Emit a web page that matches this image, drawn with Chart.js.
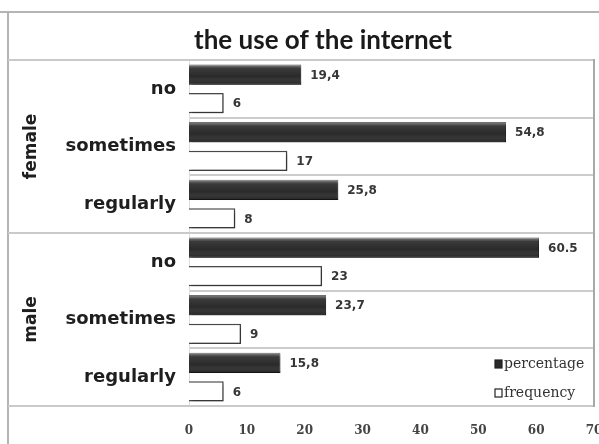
<!DOCTYPE html>
<html>
<head>
<meta charset="utf-8">
<script src="https://cdn.jsdelivr.net/npm/chart.js@4.4.1/dist/chart.umd.min.js"></script>
<style>
  html, body { margin: 0; padding: 0; background: #fff; overflow: hidden; }
  #wrap { width: 599px; height: 444px; position: relative; }
</style>
</head>
<body>
<div id="wrap"><canvas id="c"></canvas></div>
<script>
// Survey: use of the internet by gender
const chartTitle = 'the use of the internet';
const groups = ['female', 'male'];
const answers = ['no', 'sometimes', 'regularly', 'no', 'sometimes', 'regularly'];
const percentage = [19.4, 54.8, 25.8, 60.5, 23.7, 15.8];
const frequency = [6, 17, 8, 23, 9, 6];
const percentageDecimalMark = [',', ',', ',', '.', ',', ','];
const xMin = 0, xMax = 70, xStep = 10;

const seriesNames = ['percentage', 'frequency'];

function valueText(datasetIndex, i, v) {
  if (datasetIndex === 0) return v.toFixed(1).replace('.', percentageDecimalMark[i]);
  return String(v);
}

// Outer frame, row bands and group separators
const framePlugin = {
  id: 'frame',
  beforeDatasetsDraw(chart) {
    const { ctx, chartArea: a, scales: { y } } = chart;
    ctx.save();
    // outer frame
    ctx.strokeStyle = '#b4b4b4';
    ctx.lineWidth = 2;
    ctx.beginPath();
    ctx.moveTo(0, 12); ctx.lineTo(chart.width, 12);
    ctx.moveTo(8, 12); ctx.lineTo(8, chart.height);
    ctx.stroke();
    // group boundaries across the label column
    const per = answers.length / groups.length;
    const lines = [a.top, a.bottom];
    for (let g = 1; g < groups.length; g++) {
      const k = g * per;
      lines.push((y.getPixelForValue(k - 1) + y.getPixelForValue(k)) / 2);
    }
    ctx.strokeStyle = '#cacaca';
    ctx.lineWidth = 2;
    ctx.beginPath();
    lines.forEach(py => { ctx.moveTo(8, py); ctx.lineTo(a.right, py); });
    ctx.stroke();
    // right edge of plot
    ctx.strokeStyle = '#a8a8a8';
    ctx.beginPath();
    ctx.moveTo(a.right, a.top - 1); ctx.lineTo(a.right, a.bottom + 1);
    ctx.stroke();
    // group names, rotated
    ctx.fillStyle = '#1e1e1e';
    ctx.font = 'bold 17px "DejaVu Sans"';
    ctx.textAlign = 'center';
    ctx.textBaseline = 'middle';
    groups.forEach((name, g) => {
      const first = g * per, last = first + per - 1;
      const top = first === 0 ? a.top : (y.getPixelForValue(first - 1) + y.getPixelForValue(first)) / 2;
      const bottom = last === answers.length - 1 ? a.bottom : (y.getPixelForValue(last) + y.getPixelForValue(last + 1)) / 2;
      ctx.save();
      ctx.translate(32, (top + bottom) / 2);
      ctx.rotate(-Math.PI / 2);
      ctx.fillText(name, 0, 0);
      ctx.restore();
    });
    // title
    ctx.font = 'bold 26px Lato';
    ctx.fillStyle = '#1a1a1a';
    ctx.textAlign = 'center';
    ctx.textBaseline = 'alphabetic';
    ctx.fillText(chartTitle, 323, 49);
    ctx.restore();
  }
};

// Soft drop shadow under bars
const shadowPlugin = {
  id: 'barShadow',
  beforeDatasetDraw(chart) {
    const ctx = chart.ctx;
    ctx.save();
    ctx.shadowColor = 'rgba(0,0,0,0.35)';
    ctx.shadowBlur = 3;
    ctx.shadowOffsetX = 2;
    ctx.shadowOffsetY = 2;
  },
  afterDatasetDraw(chart) {
    chart.ctx.restore();
  }
};

// Glossy highlight on dark bars, value labels and legend
const decorPlugin = {
  id: 'decor',
  afterDatasetsDraw(chart) {
    const { ctx, chartArea: a } = chart;
    ctx.save();
    const dark = chart.getDatasetMeta(0);
    dark.data.forEach(bar => {
      const top = bar.y - bar.height / 2;
      const h = bar.height;
      const g = ctx.createLinearGradient(0, top, 0, top + h);
      g.addColorStop(0, 'rgba(255,255,255,0.45)');
      g.addColorStop(0.2, 'rgba(255,255,255,0.08)');
      g.addColorStop(0.6, 'rgba(255,255,255,0.0)');
      g.addColorStop(1, 'rgba(0,0,0,0.25)');
      ctx.fillStyle = g;
      ctx.fillRect(bar.base, top, bar.x - bar.base, h);
    });
    // value labels
    ctx.font = 'bold 12px "DejaVu Sans"';
    ctx.fillStyle = '#363636';
    ctx.textAlign = 'left';
    ctx.textBaseline = 'middle';
    chart.data.datasets.forEach((ds, di) => {
      chart.getDatasetMeta(di).data.forEach((bar, i) => {
        ctx.fillText(valueText(di, i, ds.data[i]), bar.x + 9, bar.y + 1);
      });
    });
    // legend
    const lx = a.right - 99;
    const rows = [a.bottom - 42, a.bottom - 13];
    ctx.font = '14px "DejaVu Serif"';
    chart.data.datasets.forEach((ds, di) => {
      const ly = rows[di];
      ctx.fillStyle = ds.backgroundColor;
      ctx.fillRect(lx, ly - 4, 7, 8);
      ctx.strokeStyle = '#222';
      ctx.lineWidth = 1.2;
      ctx.strokeRect(lx, ly - 4, 7, 8);
      ctx.fillStyle = '#333';
      ctx.fillText(ds.label, lx + 9, ly);
    });
    ctx.restore();
  }
};

new Chart(document.getElementById('c'), {
  type: 'bar',
  data: {
    labels: answers,
    datasets: [
      {
        label: seriesNames[0],
        data: percentage,
        backgroundColor: '#2a2a2a',
        borderColor: '#1c1c1c',
        borderWidth: 1,
        categoryPercentage: 0.99,
        barPercentage: 0.71
      },
      {
        label: seriesNames[1],
        data: frequency,
        backgroundColor: '#ffffff',
        borderColor: '#4a4a4a',
        borderWidth: 1.5,
        categoryPercentage: 0.99,
        barPercentage: 0.71
      }
    ]
  },
  options: {
    indexAxis: 'y',
    responsive: true,
    maintainAspectRatio: false,
    animation: false,
    layout: { padding: { top: 60, left: 8, right: 5, bottom: 0 } },
    plugins: {
      legend: { display: false },
      title: { display: false },
      tooltip: { enabled: false }
    },
    scales: {
      x: {
        type: 'linear',
        min: xMin,
        max: xMax,
        ticks: {
          stepSize: xStep,
          padding: 18,
          color: '#444',
          font: { family: '"DejaVu Serif"', size: 12, weight: 'bold' }
        },
        grid: { display: false, drawTicks: false },
        border: { display: false },
        afterFit(scale) {
          scale.height = 38;
          scale.paddingLeft = 0;
          scale.paddingRight = 0;
        }
      },
      y: {
        type: 'category',
        ticks: {
          padding: 13,
          color: '#1e1e1e',
          font: { family: '"DejaVu Sans"', size: 18, weight: 'bold' }
        },
        grid: { offset: true, color: '#cccccc', lineWidth: 2, drawTicks: false },
        border: { display: true, color: '#dedede', width: 1 },
        afterFit(scale) {
          scale.width = 181;
          scale.paddingTop = 0;
          scale.paddingBottom = 0;
        }
      }
    }
  },
  plugins: [framePlugin, shadowPlugin, decorPlugin]
});
</script>
</body>
</html>
